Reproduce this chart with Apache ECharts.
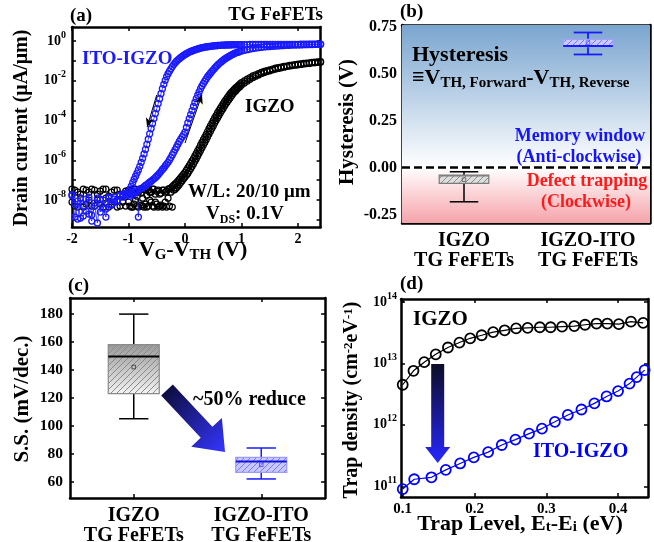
<!DOCTYPE html>
<html><head><meta charset="utf-8">
<script src="https://cdn.jsdelivr.net/npm/echarts@6/dist/echarts.min.js"></script>
<style>html,body{margin:0;padding:0;background:#fff}#c{width:654px;height:542px}</style>
</head><body><div id="c"></div>
<script>
// ---------- (a) transfer curves: V_G - V_TH sweep and log10(drain current, uA/um) ----------
const vSweep = [-2,-1.95,-1.9,-1.85,-1.8,-1.75,-1.7,-1.65,-1.6,-1.55,-1.5,-1.45,-1.4,-1.35,-1.3,-1.25,-1.2,-1.15,-1.1,-1.05,
-1,-0.975,-0.95,-0.925,-0.9,-0.875,-0.85,-0.825,-0.8,-0.775,-0.75,-0.725,-0.7,-0.675,-0.65,-0.625,-0.6,-0.575,-0.55,-0.525,
-0.5,-0.475,-0.45,-0.425,-0.4,-0.375,-0.35,-0.325,-0.3,-0.275,-0.25,-0.225,-0.2,-0.175,-0.15,-0.125,-0.1,-0.075,-0.05,-0.025,
0,0.025,0.05,0.075,0.1,0.125,0.15,0.175,0.2,0.225,0.25,0.275,0.3,0.325,0.35,0.375,0.4,0.425,0.45,0.475,
0.5,0.525,0.55,0.575,0.6,0.625,0.65,0.675,0.7,0.725,0.75,0.775,0.8,0.825,0.85,0.875,0.9,0.925,0.95,0.975,1,
1.05,1.1,1.15,1.2,1.25,1.3,1.35,1.4,1.45,1.5,1.55,1.6,1.65,1.7,1.75,1.8,1.85,1.9,1.95,2,2.05,2.1,2.15,2.2,2.25,2.3,2.35,2.4];

const igzoFwdLogI = [-7.45,-8.30,-7.60,-7.90,-8.35,-7.50,-8.00,-7.45,-8.30,-7.70,-8.20,-7.45,-7.90,-8.35,-7.60,-8.10,-7.50,-8.30,-7.80,-7.55,
-7.50,-8.30,-7.70,-8.35,-7.45,-8.00,-8.30,-7.60,-7.45,-8.25,-7.90,-8.35,-7.50,-7.75,-8.30,-7.60,-8.10,-7.45,-8.35,-7.70,
-8.20,-7.50,-8.30,-7.65,-8.35,-7.50,-8.10,-7.55,-7.45,-7.42,-7.38,-7.32,-7.25,-7.18,-7.12,-7.03,-6.95,-6.87,-6.78,-6.69,
-6.60,-6.49,-6.38,-6.27,-6.15,-6.03,-5.91,-5.78,-5.65,-5.51,-5.38,-5.24,-5.10,-4.96,-4.83,-4.69,-4.55,-4.41,-4.27,-4.14,
-4.00,-3.87,-3.75,-3.62,-3.50,-3.39,-3.27,-3.16,-3.05,-2.95,-2.85,-2.75,-2.65,-2.57,-2.50,-2.42,-2.35,-2.29,-2.22,-2.16,-2.10,
-2.01,-1.92,-1.84,-1.76,-1.70,-1.64,-1.58,-1.53,-1.49,-1.45,-1.41,-1.37,-1.34,-1.31,-1.28,-1.26,-1.23,-1.21,-1.19,-1.17,-1.15,-1.13,-1.12,-1.10,-1.08,-1.07,-1.05,-1.04];

const igzoRevLogI = [-8.10,-7.50,-8.35,-7.70,-7.45,-8.20,-7.60,-8.30,-7.50,-8.00,-7.55,-8.35,-7.45,-7.80,-8.25,-7.50,-8.35,-7.70,-8.10,-8.30,
-8.10,-7.55,-8.35,-7.60,-8.20,-7.45,-7.80,-8.35,-7.50,-7.65,-8.30,-7.45,-8.20,-8.35,-7.50,-8.00,-7.60,-8.30,-7.45,-8.10,
-7.55,-8.35,-7.70,-8.25,-7.50,-8.30,-7.60,-8.35,-7.90,-8.30,-7.60,-8.35,-7.50,-7.45,-7.38,-7.30,-7.22,-7.12,-7.02,-6.93,
-6.84,-6.75,-6.66,-6.54,-6.42,-6.30,-6.18,-6.05,-5.92,-5.78,-5.65,-5.51,-5.37,-5.23,-5.10,-4.96,-4.82,-4.68,-4.54,-4.40,
-4.27,-4.13,-4.00,-3.87,-3.75,-3.62,-3.50,-3.39,-3.27,-3.16,-3.05,-2.95,-2.85,-2.75,-2.65,-2.57,-2.50,-2.42,-2.35,-2.29,-2.22,
-2.12,-2.02,-1.93,-1.85,-1.77,-1.71,-1.65,-1.59,-1.54,-1.50,-1.46,-1.42,-1.38,-1.35,-1.32,-1.29,-1.27,-1.24,-1.22,-1.20,-1.18,-1.16,-1.14,-1.13,-1.11,-1.10,-1.08,-1.07];

const itoFwdLogI = [-7.78,-8.85,-8.05,-8.90,-8.30,-7.95,-8.70,-9.05,-8.15,-7.90,-8.60,-8.00,-8.45,-7.85,-8.25,-7.95,-8.05,-7.80,-7.85,-7.75,
-7.72,-7.80,-7.62,-7.70,-7.58,-7.62,-7.52,-8.85,-7.45,-7.42,-7.38,-7.32,-7.26,-7.22,-7.16,-7.10,-7.05,-6.99,-6.93,-6.87,
-6.80,-6.72,-6.64,-6.55,-6.46,-6.38,-6.28,-6.19,-6.10,-5.98,-5.86,-5.73,-5.60,-5.46,-5.33,-5.19,-5.05,-4.93,-4.82,-4.71,
-4.58,-4.35,-4.12,-3.90,-3.70,-3.50,-3.29,-3.09,-2.90,-2.73,-2.56,-2.40,-2.26,-2.14,-2.02,-1.91,-1.80,-1.71,-1.62,-1.53,
-1.45,-1.37,-1.29,-1.22,-1.15,-1.09,-1.03,-0.97,-0.92,-0.87,-0.83,-0.78,-0.74,-0.70,-0.67,-0.63,-0.60,-0.58,-0.55,-0.52,-0.50,
-0.47,-0.44,-0.41,-0.38,-0.36,-0.34,-0.32,-0.30,-0.29,-0.28,-0.27,-0.26,-0.25,-0.24,-0.23,-0.22,-0.22,-0.21,-0.21,-0.20,-0.20,-0.19,-0.19,-0.18,-0.18,-0.17,-0.17,-0.17];

const itoRevLogI = [-7.72,-8.20,-8.95,-7.90,-8.80,-8.55,-7.85,-8.75,-8.30,-9.15,-7.95,-8.40,-8.85,-7.90,-8.20,-7.85,-8.00,-7.75,-7.70,-7.65,
-7.58,-7.45,-7.30,-7.12,-6.95,-6.80,-6.64,-6.48,-6.30,-6.10,-5.90,-5.68,-5.45,-5.20,-4.94,-4.67,-4.40,-4.15,-3.90,-3.65,
-3.40,-3.15,-2.90,-2.65,-2.40,-2.18,-1.98,-1.80,-1.65,-1.52,-1.40,-1.29,-1.19,-1.10,-1.02,-0.95,-0.89,-0.83,-0.78,-0.73,
-0.68,-0.64,-0.60,-0.56,-0.53,-0.50,-0.47,-0.45,-0.42,-0.40,-0.38,-0.36,-0.34,-0.33,-0.31,-0.30,-0.29,-0.28,-0.27,-0.26,
-0.25,-0.24,-0.24,-0.23,-0.22,-0.22,-0.21,-0.21,-0.21,-0.20,-0.20,-0.20,-0.20,-0.19,-0.19,-0.19,-0.19,-0.19,-0.19,-0.19,-0.19,
-0.19,-0.19,-0.18,-0.18,-0.18,-0.18,-0.18,-0.18,-0.18,-0.18,-0.17,-0.17,-0.17,-0.17,-0.17,-0.17,-0.17,-0.17,-0.17,-0.17,-0.16,-0.16,-0.16,-0.16,-0.16,-0.16,-0.16,-0.16];

const draintickExps = [-9,-8,-7,-6,-5,-4,-3,-2,-1,0];
const drainLabelExps = [-8,-6,-4,-2,0];
const vTicks = [-2,-1,0,1,2];

// ---------- (b) hysteresis box statistics ----------
const boxCategories = ['IGZO\nTG FeFETs', 'IGZO-ITO\nTG FeFETs'];
const hystMin = [-0.183, 0.602];
const hystQ1 = [-0.085, 0.643];
const hystMedian = [-0.045, 0.647];
const hystQ3 = [-0.041, 0.682];
const hystMax = [-0.023, 0.719];
const hystMean = [-0.065, 0.665];
const hystTicks = [-0.25, 0, 0.25, 0.5, 0.75];

// ---------- (c) subthreshold swing box statistics ----------
const ssMin = [105.2, 62.2];
const ssQ1 = [123.1, 66.9];
const ssMedian = [149.7, 74.7];
const ssQ3 = [158.1, 77.6];
const ssMax = [179.9, 84.3];
const ssMean = [142.1, 72.3];
const ssTicks = [60, 80, 100, 120, 140, 160, 180];

// ---------- (d) trap density ----------
const trapLevelIGZO = [0.100,0.115,0.130,0.146,0.163,0.179,0.194,0.210,0.226,0.242,0.258,0.274,0.291,0.306,0.322,0.339,0.354,0.370,0.385,0.401,0.418,0.435];
const trapDensityIGZO = [4.5e12,7.6e12,1.05e13,1.41e13,1.82e13,2.19e13,2.57e13,2.88e13,3.24e13,3.47e13,3.72e13,3.80e13,3.89e13,3.89e13,3.98e13,4.07e13,4.27e13,4.47e13,4.47e13,4.37e13,4.79e13,4.57e13];
const trapLevelITO = [0.100,0.116,0.140,0.160,0.180,0.199,0.219,0.238,0.257,0.276,0.294,0.312,0.330,0.349,0.367,0.384,0.400,0.416,0.426,0.437];
const trapDensityITO = [9.0e10,1.3e11,1.4e11,1.85e11,2.35e11,2.95e11,3.6e11,4.7e11,5.75e11,7.2e11,8.7e11,1.12e12,1.45e12,1.78e12,2.24e12,2.9e12,3.55e12,4.7e12,6.0e12,7.8e12];
const trapXTicks = [0.1, 0.2, 0.3, 0.4];
const trapYTickExps = [11, 12, 13, 14];

// ================= rendering =================
const F = '"Liberation Serif","Times New Roman",serif';
const BLUE = '#1a1aff';
const chart = echarts.init(document.getElementById('c'), null, {renderer: 'canvas', width: 654, height: 542});

function hatch(color, size) {
  const c = document.createElement('canvas');
  c.width = c.height = size;
  const g = c.getContext('2d');
  g.strokeStyle = color; g.lineWidth = 1;
  g.beginPath();
  g.moveTo(0, size); g.lineTo(size, 0);
  g.moveTo(-size / 2, size / 2); g.lineTo(size / 2, -size / 2);
  g.moveTo(size / 2, size * 1.5); g.lineTo(size * 1.5, size / 2);
  g.stroke();
  return c;
}
const LG = echarts.graphic.LinearGradient;

function boxRender(styles) {
  return function (params, api) {
    const st = styles[params.dataIndex];
    const c = api.value(0);
    const P = k => api.coord([c, api.value(k)]);
    const pMin = P(1), pQ1 = P(2), pMed = P(3), pQ3 = P(4), pMax = P(5), pMean = P(6);
    const band = api.size([1, 0])[0];
    const bw = band * 0.4, cw = band * 0.23, x = pMed[0];
    const ws = {stroke: st.whisker, lineWidth: st.whiskerWidth};
    const rs = {x: x - bw / 2, y: pQ3[1], width: bw, height: pQ1[1] - pQ3[1]};
    return {type: 'group', children: [
      {type: 'line', shape: {x1: x, y1: pQ3[1], x2: x, y2: pMax[1]}, style: ws},
      {type: 'line', shape: {x1: x, y1: pQ1[1], x2: x, y2: pMin[1]}, style: ws},
      {type: 'line', shape: {x1: x - cw / 2, y1: pMax[1], x2: x + cw / 2, y2: pMax[1]}, style: ws},
      {type: 'line', shape: {x1: x - cw / 2, y1: pMin[1], x2: x + cw / 2, y2: pMin[1]}, style: ws},
      {type: 'rect', shape: rs, style: {fill: st.fill}},
      {type: 'rect', shape: rs, style: {fill: {image: st.hatch, repeat: 'repeat'}, stroke: st.border, lineWidth: st.borderWidth}},
      {type: 'line', shape: {x1: x - bw / 2, y1: pMed[1], x2: x + bw / 2, y2: pMed[1]}, style: {stroke: st.median, lineWidth: st.medianWidth}},
      {type: 'rect', shape: {x: x - 1.8, y: pMean[1] - 1.8, width: 3.6, height: 3.6}, style: {fill: 'none', stroke: st.mean, lineWidth: 0.8}}
    ]};
  };
}

const hystStyles = [
  {fill: '#dedede', hatch: hatch('#8c8c8c', 6), border: '#7a7a7a', borderWidth: 1.2, median: '#7a7a7a', medianWidth: 1.2, whisker: '#000', whiskerWidth: 1.5, mean: '#555'},
  {fill: '#cacaff', hatch: hatch('#7878ff', 6), border: '#a0a0ff', borderWidth: 1.2, median: '#1a1aff', medianWidth: 2, whisker: '#1a1aff', whiskerWidth: 1.8, mean: '#5050ff'}
];
const ssStyles = [
  {fill: new LG(0, 0, 0, 1, [{offset: 0, color: '#9a9a9a'}, {offset: 1, color: '#f2f2f2'}]), hatch: hatch('#8a8a8a', 6), border: '#8a8a8a', borderWidth: 1.2, median: '#000', medianWidth: 2, whisker: '#000', whiskerWidth: 1.5, mean: '#333'},
  {fill: '#c8c8ff', hatch: hatch('#7a7aff', 6), border: '#9a9aff', borderWidth: 1.2, median: '#1010e0', medianWidth: 2, whisker: '#1a1aff', whiskerWidth: 1.5, mean: '#4040ff'}
];

const hystData = boxCategories.map((c, i) => [i, hystMin[i], hystQ1[i], hystMedian[i], hystQ3[i], hystMax[i], hystMean[i]]);
const ssData = boxCategories.map((c, i) => [i, ssMin[i], ssQ1[i], ssMedian[i], ssQ3[i], ssMax[i], ssMean[i]]);
const pairs = (xs, ys) => xs.map((x, i) => [x, ys[i]]);
const logPairs = (xs, ys) => xs.map((x, i) => [x, Math.log10(ys[i])]);

const axLine = {show: true, onZero: false, lineStyle: {color: '#000', width: 2.5}};
const tick = (vals, extra) => Object.assign({show: true, inside: true, length: 4, lineStyle: {color: '#000', width: 1.5}}, vals ? {customValues: vals} : {}, extra || {});
const lbl = (size, extra) => Object.assign({fontFamily: F, fontWeight: 'bold', fontSize: size, color: '#000'}, extra || {});
const powRich = (base, sup) => ({
  b: {fontFamily: F, fontWeight: 'bold', fontSize: base, color: '#000', lineHeight: base + 8},
  p: {fontFamily: F, fontWeight: 'bold', fontSize: sup, color: '#000', lineHeight: sup, verticalAlign: 'top'}
});
const powFmt = v => '{b|10}{p|' + Math.round(v) + '}';

const grids = [
  {left: 72, top: 27, width: 248.6, height: 200},
  {left: 402, top: 25, width: 248, height: 198},
  {left: 70, top: 298, width: 255, height: 200},
  {left: 401, top: 299, width: 247, height: 198}
].map(g => Object.assign({containLabel: false, outerBoundsMode: 'none', show: false}, g));

const valX = (gi, min, max, ticks, fmt, size, pos) => ({
  type: 'value', gridIndex: gi, min, max, position: pos, axisLine: axLine,
  axisTick: tick(ticks), splitLine: {show: false},
  axisLabel: pos === 'top' ? {show: false} : Object.assign(lbl(size, {margin: 5, formatter: fmt}), {customValues: ticks})
});
const valY = (gi, min, max, ticks, lblTicks, fmt, style, pos) => ({
  type: 'value', gridIndex: gi, min, max, position: pos, axisLine: axLine,
  axisTick: tick(ticks), splitLine: {show: false},
  axisLabel: pos === 'right' ? {show: false} : Object.assign(style, {formatter: fmt, customValues: lblTicks})
});
const catX = (gi, pos) => ({
  type: 'category', gridIndex: gi, data: boxCategories, position: pos, axisLine: axLine,
  axisTick: tick(null, {alignWithLabel: true}), splitLine: {show: false},
  axisLabel: pos === 'top' ? {show: false} : lbl(20, {margin: 8, lineHeight: 20, interval: 0})
});

const xAxis = [
  valX(0, -2, 2.4, vTicks, v => String(v), 14, 'bottom'),
  valX(0, -2, 2.4, vTicks, null, 14, 'top'),
  catX(1, 'bottom'), catX(1, 'top'),
  catX(2, 'bottom'), catX(2, 'top'),
  valX(3, 0.0976, 0.4417, trapXTicks, v => v.toFixed(1), 15, 'bottom'),
  valX(3, 0.0976, 0.4417, trapXTicks, null, 15, 'top')
];
const yAxis = [
  valY(0, -9.35, 0.7, draintickExps, drainLabelExps, powFmt, lbl(14, {margin: 6, rich: powRich(14, 10)}), 'left'),
  valY(0, -9.35, 0.7, draintickExps, null, null, {}, 'right'),
  valY(1, -0.296, 0.759, hystTicks, hystTicks, v => v.toFixed(2), lbl(16, {margin: 5}), 'left'),
  valY(1, -0.296, 0.759, hystTicks, null, null, {}, 'right'),
  valY(2, 48.6, 191.4, ssTicks, ssTicks, v => String(v), lbl(15.5, {margin: 7}), 'left'),
  valY(2, 48.6, 191.4, ssTicks, null, null, {}, 'right'),
  valY(3, 10.825, 14.05, trapYTickExps, trapYTickExps, powFmt, lbl(14, {margin: 4, rich: powRich(14, 10)}), 'left'),
  valY(3, 10.825, 14.05, trapYTickExps, null, null, {}, 'right')
];

const ring = (color, size, bw, lw) => ({
  type: 'line', symbol: 'circle', symbolSize: size, showSymbol: true, showAllSymbol: true,
  itemStyle: {color: 'rgba(0,0,0,0)', borderColor: color, borderWidth: bw},
  lineStyle: {color: color, width: lw}, emphasis: {disabled: true}, silent: true
});

const series = [
  Object.assign(ring('#000', 6, 1.2, 0), {xAxisIndex: 0, yAxisIndex: 0, data: pairs(vSweep, igzoFwdLogI), z: 2}),
  Object.assign(ring('#000', 6, 1.2, 0), {xAxisIndex: 0, yAxisIndex: 0, data: pairs(vSweep, igzoRevLogI), z: 2}),
  Object.assign(ring(BLUE, 6, 1.3, 0.8), {xAxisIndex: 0, yAxisIndex: 0, data: pairs(vSweep, itoFwdLogI), z: 3}),
  Object.assign(ring(BLUE, 6, 1.3, 0.8), {xAxisIndex: 0, yAxisIndex: 0, data: pairs(vSweep, itoRevLogI), z: 3}),
  {type: 'line', xAxisIndex: 0, yAxisIndex: 0, data: [], z: 4, silent: true,
   markLine: {silent: true, symbol: ['none', 'arrow'], symbolSize: [6, 9], label: {show: false},
     lineStyle: {color: '#000', width: 1, type: 'solid'}, emphasis: {disabled: true},
     data: [[{coord: [-0.50, -2.71]}, {coord: [-0.67, -4.32]}], [{coord: [0.0, -5.13]}, {coord: [0.30, -2.71]}]]}},
  // (b) background & zero line
  {type: 'line', xAxisIndex: 2, yAxisIndex: 2, data: [], z: 1, silent: true,
   markArea: {silent: true, label: {show: false}, data: [
     [{yAxis: 0, itemStyle: {color: new LG(0, 0, 0, 1, [{offset: 0, color: '#7aa5cf'}, {offset: 0.55, color: '#c2d6ea'}, {offset: 1, color: '#ffffff'}])}}, {yAxis: 0.759}],
     [{yAxis: -0.296, itemStyle: {color: new LG(0, 0, 0, 1, [{offset: 0, color: '#ffffff'}, {offset: 1, color: '#f5a3aa'}])}}, {yAxis: 0}]
   ]},
   markLine: {silent: true, symbol: ['none', 'none'], label: {show: false}, lineStyle: {color: '#000', width: 2.5, type: [8, 4]}, data: [{yAxis: 0}]}},
  {type: 'custom', xAxisIndex: 2, yAxisIndex: 2, data: hystData, renderItem: boxRender(hystStyles), encode: {x: 0, y: [1, 2, 3, 4, 5]}, z: 5, silent: true},
  {type: 'custom', xAxisIndex: 4, yAxisIndex: 4, data: ssData, renderItem: boxRender(ssStyles), encode: {x: 0, y: [1, 2, 3, 4, 5]}, z: 5, silent: true},
  Object.assign(ring('#000', 10, 1.8, 1.2), {xAxisIndex: 6, yAxisIndex: 6, data: logPairs(trapLevelIGZO, trapDensityIGZO), z: 3}),
  Object.assign(ring('#0000ff', 10, 1.8, 1.2), {xAxisIndex: 6, yAxisIndex: 6, data: logPairs(trapLevelITO, trapDensityITO), z: 3})
];

// ---- annotation texts ----
const txt = (text, x, y, size, color, align, extra) => ({
  type: 'text', x, y, z: 100, silent: true,
  style: Object.assign({text, fontFamily: F, fontWeight: 'bold', fontSize: size, fill: color || '#000',
    align: align || 'left', textAlign: align || 'left', verticalAlign: 'middle', textVerticalAlign: 'middle'}, extra || {})
});
const subRich = (base, sub, color) => ({
  b: {fontFamily: F, fontWeight: 'bold', fontSize: base, fill: color || '#000', color: color || '#000', lineHeight: base + 4},
  s: {fontFamily: F, fontWeight: 'bold', fontSize: sub, fill: color || '#000', color: color || '#000', lineHeight: sub, verticalAlign: 'bottom'},
  p: {fontFamily: F, fontWeight: 'bold', fontSize: sub, fill: color || '#000', color: color || '#000', lineHeight: sub, verticalAlign: 'top'}
});
const rot = el => Object.assign(el, {rotation: Math.PI / 2});

// gradient arrows (annotations)
function arrowPoly(sx, sy, tx, ty, shaftHalf, headHalf, headLen) {
  const L = Math.hypot(tx - sx, ty - sy), dx = (tx - sx) / L, dy = (ty - sy) / L, nx = -dy, ny = dx;
  const bx = tx - dx * headLen, by = ty - dy * headLen;
  return [[sx + nx * shaftHalf, sy + ny * shaftHalf], [bx + nx * shaftHalf, by + ny * shaftHalf], [bx + nx * headHalf, by + ny * headHalf],
    [tx, ty], [bx - nx * headHalf, by - ny * headHalf], [bx - nx * shaftHalf, by - ny * shaftHalf], [sx - nx * shaftHalf, sy - ny * shaftHalf]];
}

const graphic = [
  txt('(a)', 70, 16, 19),
  txt('TG FeFETs', 323, 15, 19, '#000', 'right'),
  txt('ITO-IGZO', 82, 59, 19, BLUE),
  txt('IGZO', 245, 107, 19),
  txt('W/L: 20/10 μm', 188, 192, 19),
  txt('{b|V}{s|DS}{b|: 0.1V}', 206, 214, 19, '#000', 'left', {rich: subRich(19, 12)}),
  txt('{b|V}{s|G}{b|-V}{s|TH}{b| (V)}', 193, 250, 22, '#000', 'center', {rich: subRich(22, 15)}),
  rot(txt('Drain current (μA/μm)', 22, 128, 20, '#000', 'center')),

  txt('(b)', 400, 12, 19),
  txt('Hysteresis', 412, 55, 22),
  txt('{b|≡V}{s|TH, Forward}{b|-V}{s|TH, Reverse}', 412, 78, 22, '#000', 'left', {rich: subRich(22, 15)}),
  txt('Memory window', 580, 136, 18, '#1414ff', 'center'),
  txt('(Anti-clockwise)', 579, 157, 18, '#1414ff', 'center'),
  txt('Defect trapping', 587, 181, 18, '#ff1a1a', 'center'),
  txt('(Clockwise)', 586, 202, 18, '#ff1a1a', 'center'),
  rot(txt('Hysteresis (V)', 348, 122, 21, '#000', 'center')),

  txt('(c)', 68, 286, 19),
  txt('~50% reduce', 193, 400, 20),
  rot(txt('S.S. (mV/dec.)', 23, 399, 21, '#000', 'center')),
  {type: 'polygon', z: 90, silent: true, shape: {points: arrowPoly(167, 390, 225, 452, 8, 21, 27)},
   style: {fill: new LG(0, 0, 1, 1, [{offset: 0, color: '#0a0a30'}, {offset: 1, color: '#3535ff'}])}},

  txt('(d)', 400, 284, 19),
  txt('IGZO', 413, 320, 21),
  txt('ITO-IGZO', 533, 452, 20, '#0000ff'),
  rot(txt('Trap density (cm{p|-2}eV{p|-1})', 352, 400, 20, '#000', 'center', {rich: subRich(20, 13)})),
  txt('Trap Level, E{s|t}-E{s|i} (eV)', 520, 524, 22, '#000', 'center', {rich: subRich(22, 15)}),
  {type: 'polygon', z: 90, silent: true, shape: {points: arrowPoly(437.7, 364, 437.7, 463, 6.5, 12.5, 16)},
   style: {fill: new LG(0, 0, 0, 1, [{offset: 0, color: '#0d0d26'}, {offset: 1, color: '#2626ff'}])}}
];

chart.setOption({
  animation: false,
  backgroundColor: '#fff',
  grid: grids, xAxis, yAxis, series, graphic
});
</script>
</body></html>
